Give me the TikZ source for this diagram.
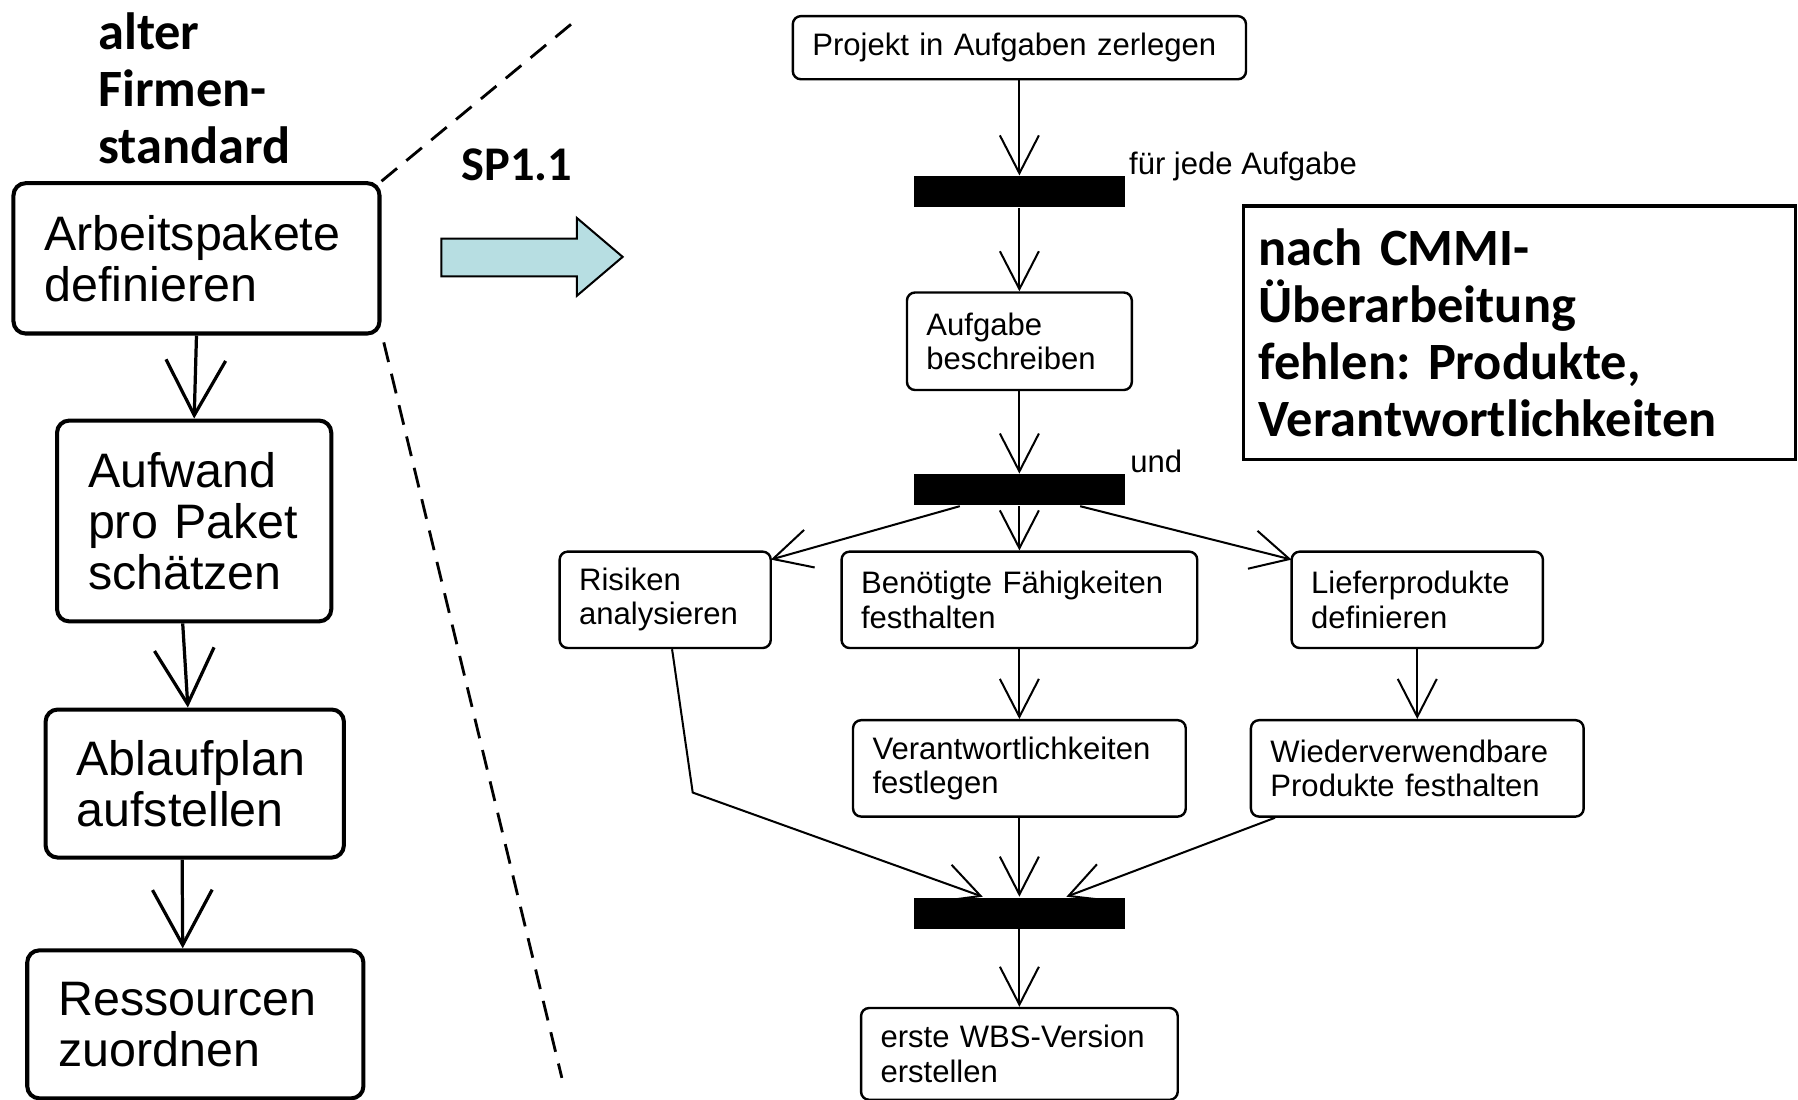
\documentclass[tikz,border=0pt]{standalone}
\usepackage{fontspec}
\setmainfont{Liberation Sans}
\newfontfamily\calib{Carlito}
\usepackage{tikz}
\usetikzlibrary{arrows.meta,calc}
\definecolor{sparrow}{RGB}{183,222,226}
\frenchspacing

\begin{document}
\begin{tikzpicture}[
    x=0.01cm, y=-0.01cm,
    act/.style={draw, line width=0.6pt, rounded corners=2pt, align=left, inner xsep=0.17cm, inner ysep=1pt, font=\fontsize{7.7pt}{8.5pt}\selectfont},
    oldact/.style={draw, line width=1pt, rounded corners=3pt, align=left, inner xsep=0.27cm, inner ysep=1pt, font=\fontsize{12pt}{12.7pt}\selectfont},
    bar/.style={fill=black, minimum width=1.84cm, minimum height=0.27cm, inner sep=0pt},
    arr/.style={-{Straight Barb[length=0.33cm, width=0.34cm]}, line width=0.5pt},
    oldarr/.style={-{Straight Barb[length=0.48cm, width=0.52cm]}, line width=0.8pt},
    heading/.style={align=left, inner sep=0pt, font=\calib\bfseries\fontsize{13pt}{14.2pt}\selectfont},
    lbl/.style={inner sep=0pt, font=\fontsize{7.7pt}{8.5pt}\selectfont},
    zoomline/.style={dash pattern=on 5pt off 3pt, line width=0.7pt},
  ]
    \useasboundingbox (0,0) rectangle (1568,959);

    % old company standard (left column)
    \node (std) [heading, anchor=base west] at (85,143) {alter\\Firmen-\\standard};
    \node (arb) [oldact, anchor=north west, text width=2.65cm, minimum height=1.31cm] at (10,158) {Arbeitspakete\\definieren};
    \node (auf) [oldact, anchor=north west, text width=1.85cm, minimum height=1.75cm] at (48,365) {Aufwand\\pro Paket\\schätzen};
    \node (abl) [oldact, anchor=north west, text width=2.06cm, minimum height=1.29cm] at (38,617) {Ablaufplan\\aufstellen};
    \node (res) [oldact, anchor=north west, text width=2.39cm, minimum height=1.29cm] at (22,827) {Ressourcen\\zuordnen};
    \draw [oldarr] (arb.south) -- (auf.north);
    \draw [oldarr] ($(auf.south)+(-10,0)$) -- ($(abl.north)+(-6,0)$);
    \draw [oldarr] ($(abl.south)+(-11,0)$) -- ($(res.north)+(-11,0)$);

    % zoom lines and SP1.1 arrow
    \coordinate (dtop) at (503,17);
    \coordinate (dbot) at (490,940);
    \draw [zoomline] (arb.north east) -- (dtop);
    \draw [zoomline] ($(arb.south east)+(2,6)$) -- (dbot);
    \node (sp) [heading, font=\calib\bfseries\fontsize{12pt}{14pt}\selectfont, anchor=base west] at (402,157) {SP1.1};
    \draw [fill=sparrow, line width=0.5pt] (385,208) -- (503,208) -- (503,190) -- (543,224)
      -- (503,258) -- (503,241) -- (385,241) -- cycle;

    % refined process (right)
    \node (proj) [act, anchor=north, text width=3.61cm, minimum height=0.55cm] at (889,13) {Projekt in Aufgaben zerlegen};
    \node (bar1) [bar, anchor=north] at (889,153) {};
    \node (each) [lbl, anchor=base west] at (984,152) {für jede Aufgabe};
    \node (desc) [act, anchor=north, text width=1.62cm, minimum height=0.85cm] at (889,254) {Aufgabe\\beschreiben};
    \node (bar2) [bar, anchor=north] at (889,413) {};
    \node (und) [lbl, anchor=base west] at (985,412) {und};
    \node (risk) [act, anchor=north west, text width=1.50cm, minimum height=0.84cm] at (487,480) {Risiken\\analysieren};
    \node (skill) [act, anchor=north, text width=2.76cm, minimum height=0.84cm] at (889,480) {Benötigte Fähigkeiten\\festhalten};
    \node (deliv) [act, anchor=north, text width=1.85cm, minimum height=0.84cm] at (1236,480) {Lieferprodukte\\definieren};
    \node (resp) [act, anchor=north, text width=2.56cm, minimum height=0.84cm] at (889,627) {Verantwortlichkeiten\\festlegen};
    \node (reuse) [act, anchor=north, text width=2.56cm, minimum height=0.84cm] at (1236,627) {Wiederverwendbare\\Produkte festhalten};
    \node (bar3) [bar, anchor=north] at (889,782) {};
    \node (wbs) [act, anchor=north, text width=2.42cm, minimum height=0.80cm] at (889,878) {erste WBS-Version\\erstellen};
    \draw [arr] (proj.south) -- (bar1.north);
    \draw [arr] (bar1.south) -- (desc.north);
    \draw [arr] (desc.south) -- (bar2.north);
    \draw [arr] ($(bar2.south)+(-52,0)$) -- ($(risk.north east)+(-1,8)$);
    \draw [arr] (bar2.south) -- (skill.north);
    \draw [arr] ($(bar2.south)+(53,0)$) -- ($(deliv.north west)+(1,8)$);
    \draw [arr] (skill.south) -- (resp.north);
    \draw [arr] (deliv.south) -- (reuse.north);
    \draw [arr] ($(risk.south)+(6,0)$) -- ++(18,125) -- ($(bar3.north)+(-32,0)$);
    \draw [arr] (resp.south) -- (bar3.north);
    \draw [arr] ($(reuse.south west)+(22,0)$) -- ($(bar3.north)+(41,0)$);
    \draw [arr] (bar3.south) -- (wbs.north);

    % CMMI remark
    \node (cmmi) [heading, draw, line width=0.9pt, anchor=north west, inner xsep=0.13cm, text width=4.55cm, minimum height=2.21cm] at (1083,178)
      {nach CMMI-\\Überarbeitung\\fehlen: Produkte,\\Verantwortlichkeiten};
\end{tikzpicture}
\end{document}
